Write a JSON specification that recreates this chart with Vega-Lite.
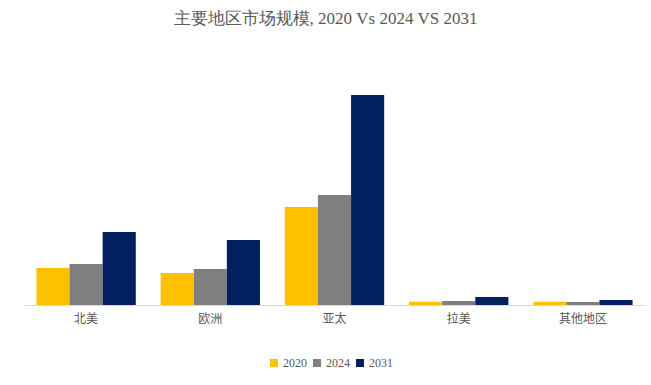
{
  "$schema": "https://vega.github.io/schema/vega-lite/v6.json",
  "width": 621,
  "height": 245,
  "autosize": {"type": "none"},
  "padding": {"left": 24, "top": 60, "right": 6, "bottom": 80},
  "background": "white",
  "title": {
    "text": "主要地区市场规模, 2020 Vs 2024 VS 2031",
    "font": "Liberation Serif",
    "fontSize": 17,
    "fontWeight": "normal",
    "color": "#595959",
    "anchor": "middle",
    "dx": -9,
    "offset": 32
  },
  "data": {
    "values": [
      {"region": "北美", "year": "2020", "value": 37},
      {"region": "北美", "year": "2024", "value": 41},
      {"region": "北美", "year": "2031", "value": 73},
      {"region": "欧洲", "year": "2020", "value": 32},
      {"region": "欧洲", "year": "2024", "value": 36},
      {"region": "欧洲", "year": "2031", "value": 65},
      {"region": "亚太", "year": "2020", "value": 98},
      {"region": "亚太", "year": "2024", "value": 110},
      {"region": "亚太", "year": "2031", "value": 210},
      {"region": "拉美", "year": "2020", "value": 3.3},
      {"region": "拉美", "year": "2024", "value": 4},
      {"region": "拉美", "year": "2031", "value": 8},
      {"region": "其他地区", "year": "2020", "value": 3.3},
      {"region": "其他地区", "year": "2024", "value": 3},
      {"region": "其他地区", "year": "2031", "value": 5}
    ]
  },
  "mark": {"type": "bar"},
  "encoding": {
    "x": {
      "field": "region",
      "type": "nominal",
      "sort": ["北美", "欧洲", "亚太", "拉美", "其他地区"],
      "scale": {"paddingInner": 0.2, "paddingOuter": 0.1},
      "axis": {
        "title": null,
        "labelAngle": 0,
        "labelFont": "Noto Sans CJK SC",
        "labelFontSize": 12,
        "labelColor": "#595959",
        "labelPadding": 8,
        "ticks": false,
        "domainColor": "#d9d9d9",
        "domainWidth": 1
      }
    },
    "xOffset": {"field": "year", "type": "nominal", "scale": {"paddingInner": 0}},
    "y": {
      "field": "value",
      "type": "quantitative",
      "scale": {"domain": [0, 245], "nice": false},
      "axis": null
    },
    "color": {
      "field": "year",
      "type": "nominal",
      "scale": {"domain": ["2020", "2024", "2031"], "range": ["#FFC000", "#7F7F7F", "#002060"]},
      "legend": {
        "title": null,
        "orient": "none",
        "direction": "horizontal",
        "legendX": 244,
        "legendY": 297,
        "symbolType": "square",
        "symbolSize": 64,
        "symbolStrokeWidth": 0,
        "labelFont": "Liberation Serif",
        "labelFontSize": 12,
        "labelColor": "#595959",
        "columnPadding": 4,
        "labelOffset": 3
      }
    }
  },
  "config": {"view": {"stroke": null}}
}
